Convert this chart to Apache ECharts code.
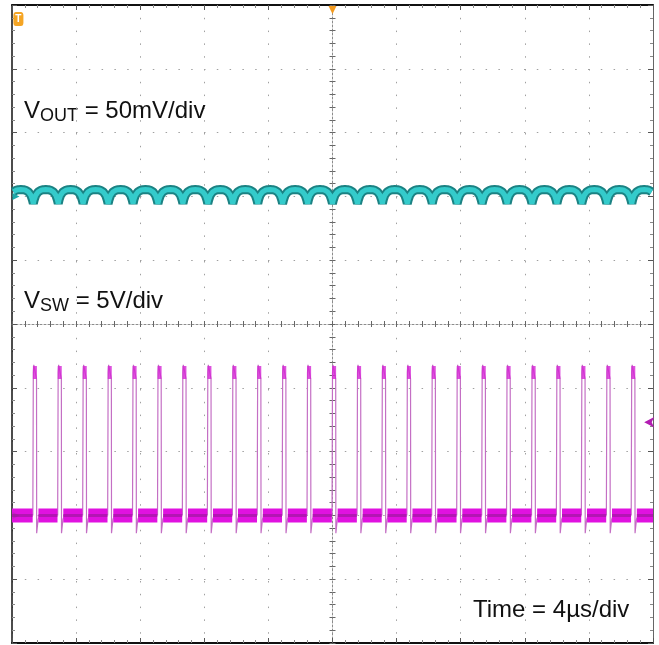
<!DOCTYPE html>
<html>
<head>
<meta charset="utf-8">
<script src="https://cdn.jsdelivr.net/npm/echarts@6/dist/echarts.min.js"></script>
<style>
html, body { margin: 0; padding: 0; background: #fff; }
#scope { width: 659px; height: 645px; }
</style>
</head>
<body>
<div id="scope"></div>
<script>
// time axis in us (4us/div, trigger at 0), VOUT ripple in mV (50mV/div), VSW in V (5V/div)
var edgeTimes = [-18.67, -17.12, -15.56, -14.00, -12.45, -10.89, -9.34, -7.78, -6.22, -4.67,
                 -3.11, -1.56, 0.00, 1.56, 3.11, 4.67, 6.22, 7.78, 9.34, 10.89,
                 12.45, 14.00, 15.56, 17.12, 18.67];
var period = 1.556;

// one ripple cycle of VOUT (phase 0 = switch edge)
var ripplePhase = [0, 0.04, 0.1, 0.2, 0.3, 0.4, 0.5, 0.6, 0.7, 0.8, 0.9, 0.96, 1];
var rippleMv    = [-5.6, -2.4, 1.0, 3.6, 4.8, 5.3, 5.4, 5.3, 4.8, 3.6, 1.0, -2.4, -5.6];

// switch node levels
var swPulseT = [0, 0.03, 0.17, 0.2, 0.21, 0.3, 0.4];
var swPulseV = [11.2, 11.8, 10.9, 10.7, -1.4, -0.3, 0];
var swTopV = 11.2;
var trigLevel = 7.3;

var voutData = [];
for (var k = -1; k < edgeTimes.length; k++) {
    var t0 = k < 0 ? edgeTimes[0] - period : edgeTimes[k];
    for (var i = 0; i < ripplePhase.length; i++) {
        var t = t0 + ripplePhase[i] * period;
        if (t >= -20 && t <= 20) voutData.push([t, rippleMv[i]]);
    }
}

var edgeData = [], topData = [], bandData = [];
var bandStart = -20;
edgeTimes.forEach(function (t) {
    bandData.push([bandStart, 0], [t - 0.04, 0], [t, '-']);
    edgeData.push([t - 0.03, 0]);
    for (var i = 0; i < swPulseT.length; i++) edgeData.push([t + swPulseT[i], swPulseV[i]]);
    edgeData.push([t + 0.45, '-']);
    topData.push([t + 0.1, swTopV]);
    bandStart = t + 0.32;
});
bandData.push([bandStart, 0], [20, 0]);

var chart = echarts.init(document.getElementById('scope'));

var grid = { left: 12, top: 5, right: 6, bottom: 2 };
var dots = { color: '#a0a0a0', type: [1.5, 11.3], width: 1 };
var noLabel = { show: false };

function frameX(pos, lineColor) {
    return {
        gridIndex: 0, type: 'value', position: pos, min: -20, max: 20, interval: 4,
        axisLine: { show: true, onZero: false, lineStyle: { color: lineColor, width: 2 } },
        axisTick: { show: true, inside: true, length: 5, lineStyle: { color: '#555' } },
        minorTick: { show: true, splitNumber: 5, length: 3, lineStyle: { color: '#888' } },
        axisLabel: noLabel,
        splitLine: { show: pos === 'bottom', lineStyle: dots }
    };
}
function frameY(pos, lineColor, w) {
    return {
        gridIndex: 0, type: 'value', position: pos, min: -5, max: 5, interval: 1,
        axisLine: { show: true, onZero: false, lineStyle: { color: lineColor, width: w } },
        axisTick: { show: true, inside: true, length: 5, lineStyle: { color: '#555' } },
        minorTick: { show: true, splitNumber: 5, length: 3, lineStyle: { color: '#888' } },
        axisLabel: noLabel,
        splitLine: { show: pos === 'left', lineStyle: dots }
    };
}
function centerX(gi, pos, showLine) {
    return {
        gridIndex: gi, type: 'value', position: pos, min: -20, max: 20, interval: 4,
        axisLine: { show: showLine, onZero: true, lineStyle: { color: '#8c8c8c', type: [2, 2], width: 1 } },
        axisTick: { show: true, inside: true, length: 3, lineStyle: { color: '#666' } },
        minorTick: { show: true, splitNumber: 5, length: 3, lineStyle: { color: '#666' } },
        axisLabel: noLabel, splitLine: { show: false }
    };
}
function centerY(gi, pos, showLine) {
    return {
        gridIndex: gi, type: 'value', position: pos, min: -5, max: 5, interval: 1,
        axisLine: { show: showLine, onZero: true, lineStyle: { color: '#8c8c8c', type: [2, 2], width: 1 } },
        axisTick: { show: true, inside: true, length: 3, lineStyle: { color: '#666' } },
        minorTick: { show: true, splitNumber: 5, length: 3, lineStyle: { color: '#666' } },
        axisLabel: noLabel, splitLine: { show: false }
    };
}

var font = 'Liberation Sans';
var big = { fontSize: 24, fontFamily: font, fill: '#111', lineHeight: 28 };
var sub = { fontSize: 18, fontFamily: font, fill: '#111', lineHeight: 21, verticalAlign: 'bottom' };

var option = {
    animation: false,
    backgroundColor: '#fff',
    grid: [
        Object.assign({}, grid),
        Object.assign({}, grid),
        Object.assign({}, grid)
    ],
    xAxis: [
        frameX('bottom', '#111'),
        frameX('top', '#111'),
        centerX(1, 'bottom', true),
        centerX(2, 'top', false)
    ],
    yAxis: [
        frameY('left', '#111', 1.5),
        frameY('right', '#666', 1),
        { gridIndex: 0, type: 'value', show: false, min: -350, max: 150 },
        { gridIndex: 0, type: 'value', show: false, min: -10, max: 40 },
        centerY(1, 'left', true),
        centerY(2, 'right', false)
    ],
    graphic: [
        { type: 'text', left: 24, top: 99, style: { text: '{v|V}{s|OUT}{v| = 50mV/div}', rich: { v: big, s: sub } } },
        { type: 'text', left: 24, top: 289, style: { text: '{v|V}{s|SW}{v| = 5V/div}', rich: { v: big, s: sub } } },
        { type: 'text', left: 473, top: 598, style: { text: '{v|Time = 4µs/div}', rich: { v: big } } }
    ],
    series: [
        {
            name: 'VOUT edge', type: 'line', xAxisIndex: 0, yAxisIndex: 2, data: voutData,
            showSymbol: false, lineStyle: { color: '#1b8283', width: 9 }, z: 3,
            markPoint: {
                symbol: 'triangle', symbolSize: 7, symbolRotate: -90,
                itemStyle: { color: '#1fa8a8' }, label: { show: false },
                data: [{ coord: [-19.75, 0] }]
            }
        },
        {
            name: 'VOUT', type: 'line', xAxisIndex: 0, yAxisIndex: 2, data: voutData,
            showSymbol: false, lineStyle: { color: '#34cbcb', width: 5 }, z: 4
        },
        {
            name: 'VSW edges', type: 'line', xAxisIndex: 0, yAxisIndex: 3, data: edgeData,
            showSymbol: false, connectNulls: false, lineStyle: { color: '#c46fc4', width: 1.2 }, z: 3,
            markPoint: {
                label: { show: false },
                data: [
                    { coord: [-19.75, 0], symbol: 'triangle', symbolSize: 7, symbolRotate: -90, itemStyle: { color: '#c21fc2' } },
                    { coord: [19.45, trigLevel], symbol: 'arrow', symbolSize: [8, 10], symbolRotate: 90, itemStyle: { color: '#b21db2' } },
                    { coord: [0, 39.6], symbol: 'triangle', symbolSize: 8, symbolRotate: 180, itemStyle: { color: '#f39a1e' } },
                    { coord: [-19.6, 38.9], symbol: 'roundRect', symbolSize: [10, 14], itemStyle: { color: '#f5a524' },
                      label: { show: true, formatter: 'T', color: '#fff', fontSize: 10, fontWeight: 'bold', position: 'inside' } }
                ]
            }
        },
        {
            name: 'VSW low', type: 'line', xAxisIndex: 0, yAxisIndex: 3, data: bandData,
            showSymbol: false, connectNulls: false, lineStyle: { color: '#e012e0', width: 14 }, z: 4
        },
        {
            name: 'VSW low dark', type: 'line', xAxisIndex: 0, yAxisIndex: 3, data: bandData,
            showSymbol: false, connectNulls: false, lineStyle: { color: '#8e1a8e', width: 3, opacity: 0.55 }, z: 5
        },
        {
            name: 'VSW top', type: 'scatter', xAxisIndex: 0, yAxisIndex: 3, data: topData,
            symbol: 'rect', symbolSize: [4, 13], itemStyle: { color: '#d526d5' }, z: 5
        }
    ]
};
chart.setOption(option);
</script>
</body>
</html>
